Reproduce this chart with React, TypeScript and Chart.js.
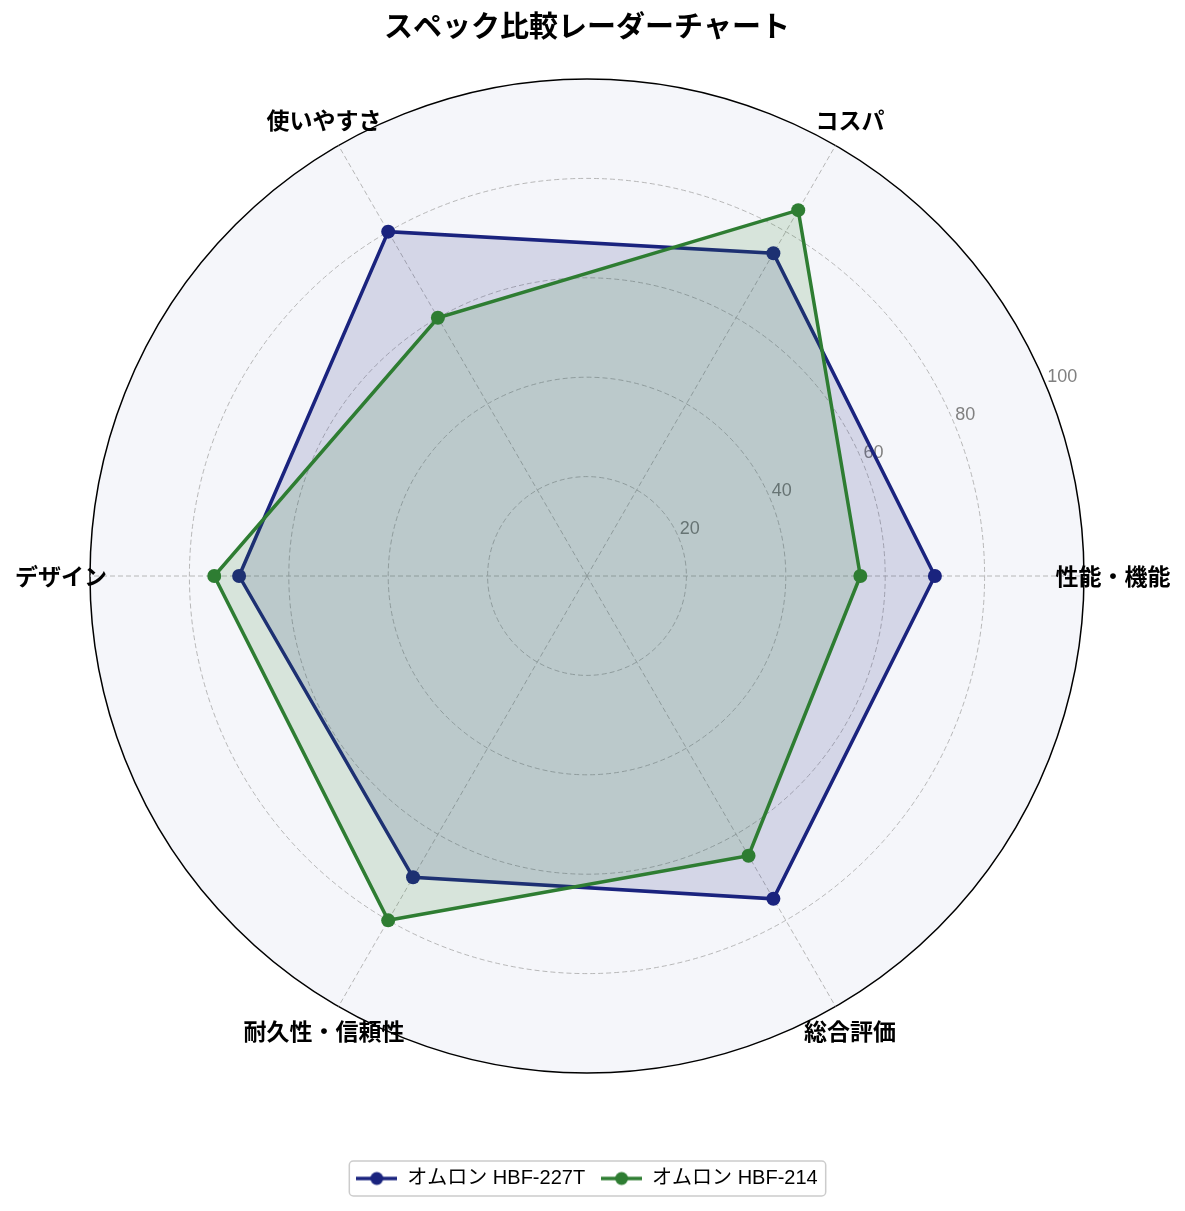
import React, { useEffect, useRef } from "react";
import { Chart, registerables } from "chart.js";

Chart.register(...registerables);

const TITLE = "スペック比較レーダーチャート";
const CATEGORIES = ["性能・機能", "コスパ", "使いやすさ", "デザイン", "耐久性・信頼性", "総合評価"];
const SERIES_NAMES = ["オムロン HBF-227T", "オムロン HBF-214"];
const SERIES_A = [70, 75, 80, 70, 70, 75];
const SERIES_B = [55, 85, 60, 75, 80, 65];
const R_TICKS = [20, 40, 60, 80, 100];
const LINE_COLORS = ["#1a237e", "#2e7d32"];
const FILL_COLORS = ["rgba(26,35,126,0.15)", "rgba(46,125,50,0.15)"];

const FONT = "'Noto Sans CJK JP', 'Noto Sans', sans-serif";
const LATIN_FONT = "'Liberation Sans', 'Noto Sans CJK JP', sans-serif";

// reference runs counter-clockwise from 3 o'clock; Chart.js runs clockwise
const toClockwise = <T,>(arr: T[]): T[] => [arr[0], ...arr.slice(1).reverse()];

function makeLegendMarker(color: string): HTMLCanvasElement {
  const c = document.createElement("canvas");
  c.width = 41;
  c.height = 16;
  const g = c.getContext("2d")!;
  g.strokeStyle = color;
  g.lineWidth = 3.5;
  g.beginPath();
  g.moveTo(0, 8);
  g.lineTo(41, 8);
  g.stroke();
  g.fillStyle = color;
  g.beginPath();
  g.arc(20.5, 8, 6.5, 0, Math.PI * 2);
  g.fill();
  return c;
}

const radarDecor = {
  id: "radarDecor",
  beforeDraw(chart: any) {
    const s = chart.scales.r;
    const ctx = chart.ctx;
    ctx.save();
    ctx.fillStyle = "#f5f6fa";
    ctx.beginPath();
    ctx.arc(s.xCenter, s.yCenter, s.drawingArea, 0, Math.PI * 2);
    ctx.fill();
    const lg = chart.legend;
    if (lg && lg.legendHitBoxes && lg.legendHitBoxes.length) {
      const hb = lg.legendHitBoxes;
      const last = hb[hb.length - 1];
      const x0 = hb[0].left - 7;
      const x1 = last.left + last.width + 8;
      const y0 = hb[0].top - 7.5;
      const y1 = hb[0].top + hb[0].height + 7.5;
      ctx.fillStyle = "rgba(255,255,255,0.8)";
      ctx.strokeStyle = "#cccccc";
      ctx.lineWidth = 1.5;
      ctx.beginPath();
      (ctx as any).roundRect(x0, y0, x1 - x0, y1 - y0, 4);
      ctx.fill();
      ctx.stroke();
    }
    ctx.restore();
  },
  beforeDatasetsDraw(chart: any) {
    const s = chart.scales.r;
    const ctx = chart.ctx;
    ctx.save();
    ctx.font = `18px ${LATIN_FONT}`;
    ctx.fillStyle = "#808080";
    ctx.textAlign = "left";
    ctx.textBaseline = "alphabetic";
    R_TICKS.forEach((v) => {
      const d = s.getDistanceFromCenterForValue(v);
      const p = s.getPointPosition(0, d, -Math.PI / 8);
      ctx.fillText(String(v), p.x + 1, p.y - 3.5);
    });
    ctx.restore();
  },
  afterDraw(chart: any) {
    const s = chart.scales.r;
    const ctx = chart.ctx;
    ctx.save();
    ctx.font = `bold 23px ${FONT}`;
    ctx.fillStyle = "#000000";
    ctx.textAlign = "center";
    ctx.textBaseline = "middle";
    (chart.data.labels as string[]).forEach((lab, i) => {
      const p = s.getPointPosition(i, s.drawingArea + 29);
      ctx.fillText(lab, p.x, p.y);
    });
    ctx.restore();
  },
};

export default function App() {
  const ref = useRef<HTMLCanvasElement | null>(null);

  useEffect(() => {
    if (!ref.current) return;
    const markers = LINE_COLORS.map(makeLegendMarker);
    const seriesValues = [SERIES_A, SERIES_B];
    const chart = new Chart(ref.current, {
      type: "radar",
      data: {
        labels: toClockwise(CATEGORIES),
        datasets: SERIES_NAMES.map((name, i) => ({
          label: name,
          data: toClockwise(seriesValues[i]),
          borderColor: LINE_COLORS[i],
          backgroundColor: FILL_COLORS[i],
          borderWidth: 3.5,
          fill: true,
          pointRadius: 7,
          pointBorderWidth: 0,
          pointBackgroundColor: LINE_COLORS[i],
          order: SERIES_NAMES.length - i,
        })),
      },
      options: {
        animation: false,
        responsive: false,
        devicePixelRatio: 1,
        layout: { padding: { top: 0, left: 90, right: 101, bottom: 12.5 } },
        scales: {
          r: {
            min: 0,
            max: 100,
            startAngle: 90,
            ticks: { stepSize: 20, display: false },
            pointLabels: { display: false },
            grid: {
              circular: true,
              color: (c: any) => (c.tick && c.tick.value === 100 ? "#000000" : "#b0b0b0"),
              lineWidth: (c: any) => (c.tick && c.tick.value === 100 ? 1.5 : 0.9),
            },
            border: {
              dash: (c: any) => (c.tick && c.tick.value === 100 ? [] : [5, 3]),
            },
            angleLines: { color: "#b0b0b0", lineWidth: 0.9, borderDash: [5, 3] },
          },
        },
        plugins: {
          title: {
            display: true,
            text: TITLE,
            color: "#000000",
            font: { family: FONT, size: 29, weight: "bold" },
            padding: { top: 9, bottom: 35.2 },
          },
          legend: {
            display: true,
            position: "bottom",
            title: { display: true, text: "", font: { size: 10 }, padding: { top: 67.5, bottom: 0 } },
            labels: {
              usePointStyle: true,
              pointStyleWidth: 41,
              padding: 16,
              color: "#000000",
              font: { family: LATIN_FONT, size: 20 },
              generateLabels: () =>
                SERIES_NAMES.map((name, i) => ({
                  text: name,
                  fillStyle: LINE_COLORS[i],
                  strokeStyle: LINE_COLORS[i],
                  lineWidth: 0,
                  pointStyle: markers[i],
                  hidden: false,
                  datasetIndex: i,
                  fontColor: "#000000",
                })),
            },
          },
          tooltip: { enabled: false },
        },
      },
      plugins: [radarDecor],
    } as any);
    return () => chart.destroy();
  }, []);

  return (
    <div style={{ position: "absolute", left: 0, top: 0, width: 1185, height: 1211, background: "#ffffff" }}>
      <canvas ref={ref} width={1185} height={1211} style={{ display: "block" }} />
    </div>
  );
}
